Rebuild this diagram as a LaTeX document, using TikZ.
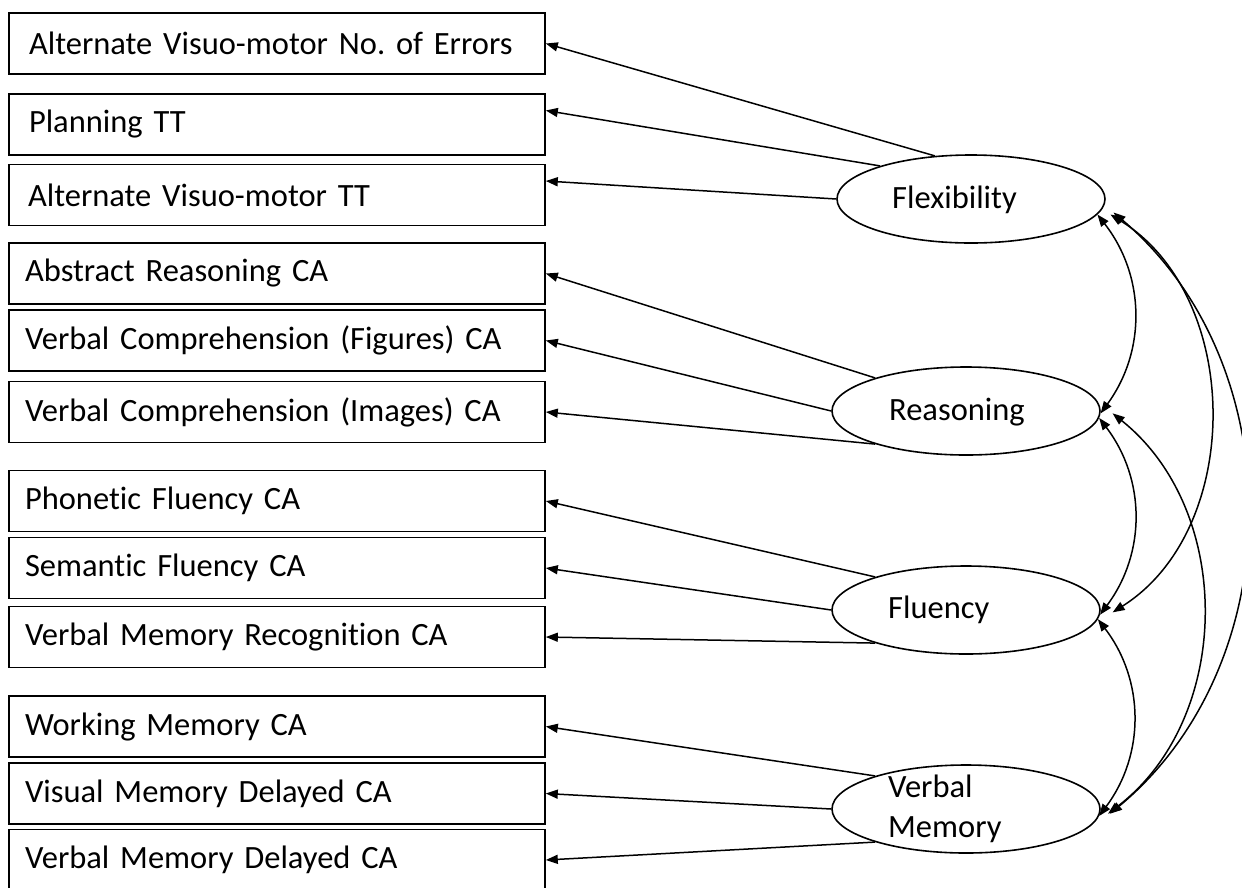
\documentclass[tikz,border=0pt]{standalone}
\usepackage{fontspec}
\setmainfont{Carlito}[Ligatures={NoCommon,NoContextual}, Contextuals=NoAlternate]
\usetikzlibrary{positioning,shapes.geometric,arrows.meta}

\begin{document}
\begin{tikzpicture}[x=1pt, y=-1pt, font=\fontsize{32.5}{40}\selectfont\frenchspacing]
       \tikzstyle{measure} = [rectangle, draw, line width=1.6pt, minimum width=536pt, minimum height=61pt, text width=504pt, inner xsep=16pt, inner ysep=0pt, align=left]
       \tikzstyle{latent}  = [ellipse, draw, line width=1.6pt, minimum width=268pt, minimum height=88pt, inner sep=0pt]
       \tikzstyle{lvname}  = [inner sep=0pt, anchor=west, align=left]
       \tikzstyle{load}    = [line width=1.5pt, -{Triangle[length=12pt, width=9pt]}]
       \tikzstyle{cov}     = [line width=1.5pt, {Triangle[length=12pt, width=9pt]}-{Triangle[length=12pt, width=9pt]}]

       \useasboundingbox (0,0) rectangle (1242,887);

       % observed measures
       \node [measure, text width=496pt, inner xsep=20pt] (altvmerr) at (277,43.5)  {Alternate Visuo-motor No. of Errors};
       \node [measure, text width=496pt, inner xsep=20pt] (plantt)   at (277,124.5) {Planning TT};
       \node [measure, text width=498pt, inner xsep=19pt] (altvmtt)  at (277,195)   {Alternate Visuo-motor TT};

       \node [measure] (absreas)  at (277,273.5) {Abstract Reasoning CA};
       \node [measure] (vcfig)    at (277,340.5) {Verbal Comprehension (Figures) CA};
       \node [measure] (vcimg)    at (277,412)   {Verbal Comprehension (Images) CA};

       \node [measure] (phonflu)  at (277,501)   {Phonetic Fluency CA};
       \node [measure] (semflu)   at (277,568)   {Semantic Fluency CA};
       \node [measure] (vmrec)    at (277,637)   {Verbal Memory Recognition CA};

       \node [measure] (workmem)  at (277,726.5) {Working Memory CA};
       \node [measure] (vismem)   at (277,793.5) {Visual Memory Delayed CA};
       \node [measure] (verbmem)  at (277,860)   {Verbal Memory Delayed CA};

       % latent factors
       \node [latent] (flex)    at (971,199) {};
       \node [lvname] (flexname) at ([xshift=-79pt,yshift=-1pt]flex.center) {Flexibility};

       \node [latent] (reason)  at (966,411) {};
       \node [lvname] (reasonname) at ([xshift=-77pt,yshift=-1pt]reason.center) {Reasoning};

       \node [latent] (fluency) at (966,610) {};
       \node [lvname] (fluencyname) at ([xshift=-78pt]fluency.center) {Fluency};

       \node [latent] (vmemory) at (966,809) {};
       \node [lvname] (vmemoryname) at ([xshift=-78pt]vmemory.center) {Verbal\\Memory};

       % loadings
       \draw [load] (flex.130)    -- (altvmerr.east);
       \draw [load] (flex.160)    -- ([yshift=14pt]plantt.east);
       \draw [load] (flex.west)   -- ([yshift=14pt]altvmtt.east);

       \draw [load] (reason.160)  -- (absreas.east);
       \draw [load] (reason.west) -- (vcfig.east);
       \draw [load] (reason.200)  -- (vcimg.east);

       \draw [load] (fluency.160)  -- (phonflu.east);
       \draw [load] (fluency.west) -- (semflu.east);
       \draw [load] (fluency.200)  -- (vmrec.east);

       \draw [load] (vmemory.160)  -- (workmem.east);
       \draw [load] (vmemory.west) -- (vismem.east);
       \draw [load] (vmemory.200)  -- (verbmem.east);

       % correlations
       \draw [cov] (flex.-7)    to [bend left=37] (reason.-1);
       \draw [cov] (reason.-3)  to [bend left=37] (fluency.-2);
       \draw [cov] (fluency.-4) to [bend left=37] (vmemory.-3);
       \draw [cov] ([xshift=13pt]flex.-7)   to [bend left=58] ([xshift=12pt]fluency.-1);
       \draw [cov] ([xshift=12pt]reason.-1) to [bend left=52] ([xshift=8pt]vmemory.-2);
       \draw [cov] ([xshift=14pt]flex.-6)   to [bend left=50] ([xshift=10pt]vmemory.-2);
\end{tikzpicture}
\end{document}
